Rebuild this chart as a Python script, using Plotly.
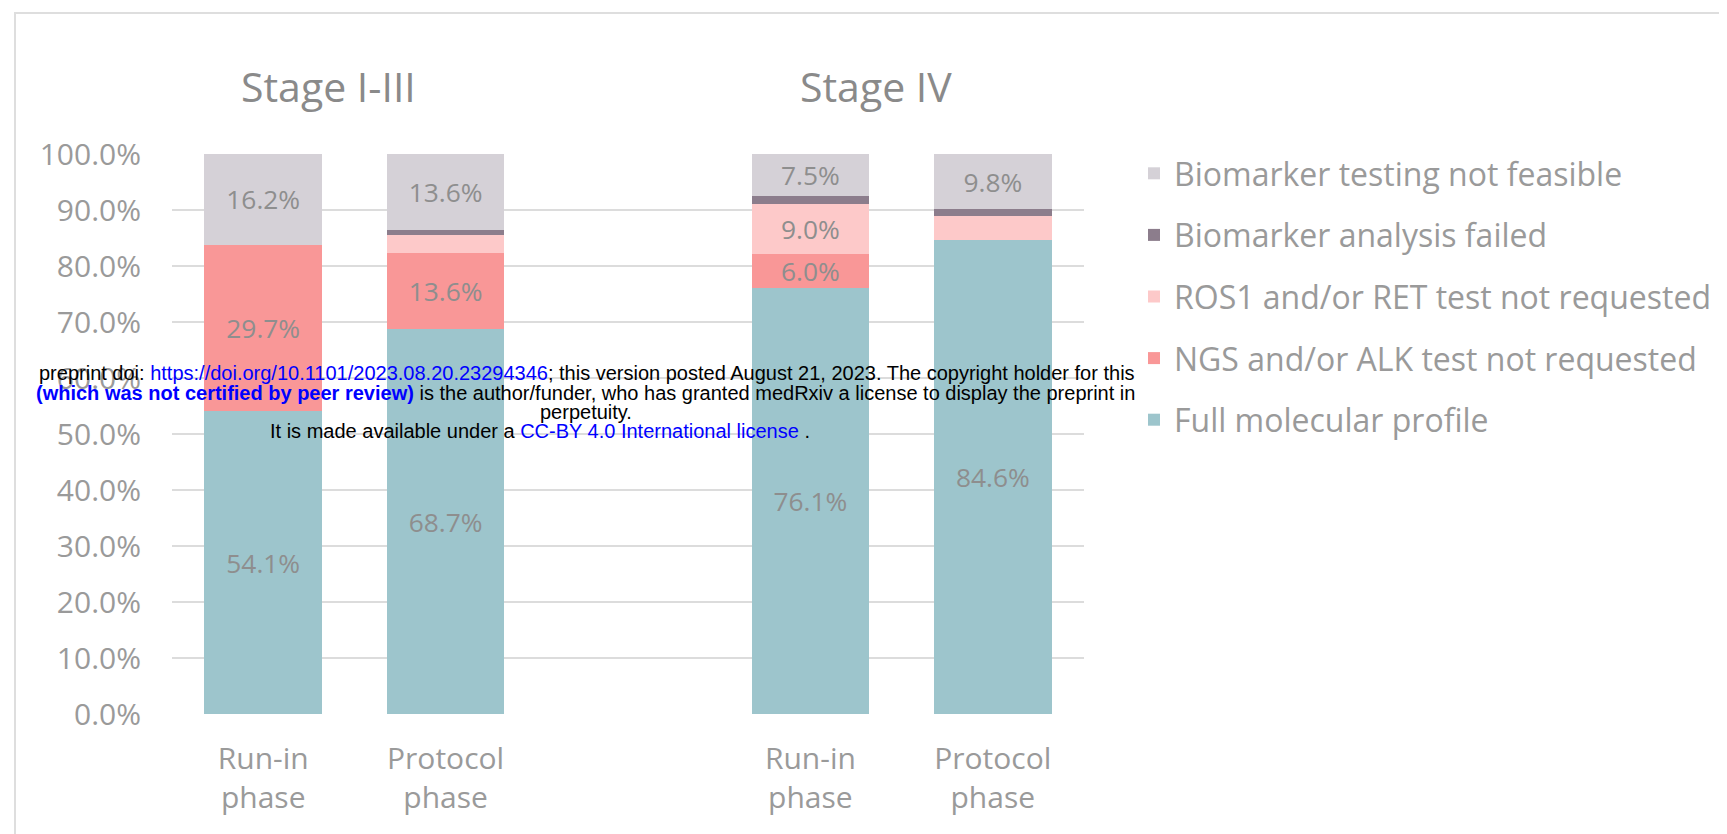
import plotly.graph_objects as go

# ---- data ----
stages = ["Stage I-III", "Stage IV"]
phases = ["Run-in<br>phase", "Protocol<br>phase"]

series_names = [
    "Full molecular profile",
    "NGS and/or ALK test not requested",
    "ROS1 and/or RET test not requested",
    "Biomarker analysis failed",
    "Biomarker testing not feasible",
]
# order of bars: Stage I-III Run-in, Stage I-III Protocol, Stage IV Run-in, Stage IV Protocol
full_profile = [54.1, 68.7, 76.1, 84.6]
ngs_alk = [29.7, 13.6, 6.0, 0.0]
ros1_ret = [0.0, 3.2, 9.0, 4.3]
analysis_failed = [0.0, 0.9, 1.4, 1.3]
not_feasible = [16.2, 13.6, 7.5, 9.8]

labels_full = ["54.1%", "68.7%", "76.1%", "84.6%"]
labels_ngs = ["29.7%", "13.6%", "6.0%", ""]
labels_ros = ["", "", "9.0%", ""]
labels_failed = ["", "", "", ""]
labels_nf = ["16.2%", "13.6%", "7.5%", "9.8%"]

colors = ["#9dc5cc", "#f99797", "#fdc9c9", "#8c7d8c", "#d5d1d7"]

y_ticks = [0, 10, 20, 30, 40, 50, 60, 70, 80, 90, 100]
y_ticktext = ["0.0%", "10.0%", "20.0%", "30.0%", "40.0%", "50.0%",
              "60.0%", "70.0%", "80.0%", "90.0%", "100.0%"]

# positions: each stage group separated by an empty slot
xpos = [si * 3 + pi for si in range(len(stages)) for pi in range(len(phases))]
xtext = [p for _ in stages for p in phases]

values = [full_profile, ngs_alk, ros1_ret, analysis_failed, not_feasible]
texts = [labels_full, labels_ngs, labels_ros, labels_failed, labels_nf]

# ---- figure geometry (screen pixels; page body has an 8px margin) ----
W, H = 1727, 834
OFF = 8
PL, PR, PT, PB = 172, 1084, 154, 714          # plot area on screen
L, T = PL - OFF, PT - OFF
R, B = W - (PR - OFF), H - (PB - OFF)
pw, ph = PR - PL, PB - PT


def px_x(p):
    return (p - PL) / pw


def px_y(p):
    return (PB - p) / ph


FONT = "Open Sans"
GREY = "#9a9a9a"

fig = go.Figure()
n = len(series_names)
for i, name in enumerate(series_names):
    fig.add_trace(go.Bar(
        x=xpos, y=values[i], name=name,
        marker=dict(color=colors[i], line=dict(width=0)),
        text=texts[i], textposition="inside", insidetextanchor="middle",
        textfont=dict(family=FONT, size=30, color="#8e8e8e"),
        legendgroup=str(i), legendrank=n - i, width=0.645,
        hoverinfo="name+y",
    ))

annotations = []
# stage titles
for si, st in enumerate(stages):
    annotations.append(dict(
        x=si * 3 + 0.36, y=px_y(86), xref="x", yref="paper",
        text=st, showarrow=False, xanchor="center", yanchor="middle",
        font=dict(family=FONT, size=41, color="#8a8a8a"),
    ))

# preprint watermark overlay
wm_font = dict(family="Liberation Sans", size=20, color="black")
blue = "#0000ff"
wm_lines = [
    ("preprint doi: <span style='color:%s'>https://doi.org/10.1101/2023.08.20.23294346</span>; "
     "this version posted August 21, 2023. The copyright holder for this" % blue, 587, 373),
    ("<span style='color:%s'><b>(which was not certified by peer review)</b></span> is the author/funder, "
     "who has granted medRxiv a license to display the preprint in" % blue, 585, 393),
    ("perpetuity.", 586, 412),
    ("It is made available under a <span style='color:%s'>CC-BY 4.0 International license</span> ." % blue, 540, 431),
]
for txt, cx, cy in wm_lines:
    annotations.append(dict(
        x=px_x(cx), y=px_y(cy), xref="paper", yref="paper", text=txt,
        showarrow=False, xanchor="center", yanchor="middle", font=wm_font,
    ))

fig.update_layout(
    width=W, height=H,
    margin=dict(l=L, r=R, t=T, b=B, autoexpand=False),
    paper_bgcolor="white", plot_bgcolor="white",
    barmode="stack",
    showlegend=True,
    legend=dict(
        x=px_x(1134), y=px_y(146), xanchor="left", yanchor="top",
        traceorder="grouped", tracegroupgap=17,
        font=dict(family=FONT, size=32, color=GREY),
        itemsizing="constant", bgcolor="rgba(0,0,0,0)",
    ),
    uniformtext=dict(minsize=24, mode="show"),
    xaxis=dict(
        range=[-0.5, 4.5], tickmode="array", tickvals=xpos, ticktext=xtext,
        showgrid=False, zeroline=False, showline=False, ticks="",
        tickfont=dict(family=FONT, size=30, color=GREY),
        ticklabelstandoff=24,
    ),
    yaxis=dict(
        range=[0, 100], tickmode="array", tickvals=y_ticks, ticktext=y_ticktext,
        showgrid=True, gridcolor="#dcdcdc", gridwidth=2,
        zeroline=False, showline=False, ticks="",
        tickfont=dict(family=FONT, size=30, color=GREY),
        ticklabelstandoff=30,
    ),
    annotations=annotations,
    shapes=[dict(
        type="rect", xref="paper", yref="paper", layer="below",
        x0=px_x(15), y0=px_y(860), x1=px_x(1760), y1=px_y(13),
        line=dict(color="#dedede", width=2), fillcolor="rgba(0,0,0,0)",
    )],
)

fig.write_html("out.html")
